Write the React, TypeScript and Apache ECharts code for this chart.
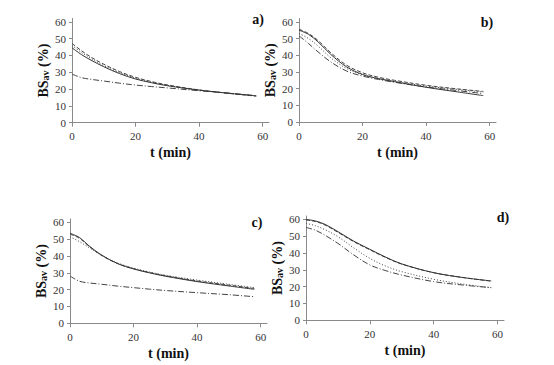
import React, { useEffect, useRef } from "react";
import * as echarts from "echarts";

const T = [0, 3, 6, 10, 15, 20, 25, 30, 40, 50, 58];
const xTicks = [0, 20, 40, 60];
const yTicks = [0, 10, 20, 30, 40, 50, 60];
const panelLabels = ["a)", "b)", "c)", "d)"];

const aSolid = [44.6, 40.5, 37.2, 33.3, 29.2, 26.0, 23.8, 22.0, 19.4, 17.4, 16.0];
const aDashed = [47.2, 42.8, 39.0, 34.8, 30.4, 27.0, 24.5, 22.5, 19.5, 17.3, 15.8];
const aDotted = [46.0, 41.8, 38.2, 34.0, 29.8, 26.5, 24.1, 22.2, 19.4, 17.4, 16.0];
const aDashDot = [28.9, 26.8, 25.8, 24.8, 23.5, 22.4, 21.5, 20.7, 19.0, 17.5, 16.0];

const bSolid = [55.0, 52.5, 48.0, 40.5, 33.0, 28.5, 26.0, 24.2, 20.8, 18.0, 15.8];
const bDashed = [55.6, 53.0, 48.8, 41.5, 34.0, 29.5, 26.8, 25.0, 22.0, 19.8, 18.3];
const bDotted = [53.0, 50.0, 45.5, 38.5, 32.0, 28.3, 26.0, 24.3, 21.5, 19.5, 18.0];
const bDashDot = [51.6, 47.0, 42.0, 36.0, 30.5, 27.5, 25.5, 23.8, 21.0, 18.8, 17.0];

const cSolid = [53.5, 51.0, 46.0, 40.5, 35.5, 32.3, 30.0, 28.0, 24.8, 22.2, 20.2];
const cDashed = [53.0, 50.5, 45.8, 40.3, 35.5, 32.5, 30.2, 28.3, 25.2, 22.7, 20.7];
const cDotted = [51.5, 48.5, 45.0, 40.3, 35.8, 32.8, 30.5, 28.6, 25.7, 23.2, 21.2];
const cDashDot = [28.1, 25.0, 24.0, 23.2, 22.1, 21.2, 20.3, 19.5, 18.2, 17.0, 15.8];

const dSolid = [60.0, 59.0, 57.0, 52.7, 47.0, 42.2, 37.5, 33.5, 28.3, 25.2, 23.4];
const dDashed = [59.6, 58.7, 56.6, 52.3, 46.7, 41.9, 37.3, 33.4, 28.3, 25.2, 23.3];
const dDotted = [57.6, 56.2, 53.8, 49.7, 43.0, 36.8, 32.2, 28.9, 24.4, 21.3, 19.4];
const dDashDot = [55.2, 53.5, 50.5, 45.7, 38.8, 32.9, 29.5, 26.9, 23.0, 20.8, 19.4];

const panels = [
  [aSolid, aDashed, aDotted, aDashDot],
  [bSolid, bDashed, bDotted, bDashDot],
  [cSolid, cDashed, cDotted, cDashDot],
  [dSolid, dDashed, dDotted, dDashDot],
];

const FONT = "'Liberation Serif', 'Times New Roman', serif";

const grids = [
  { left: 72, top: 18.5, width: 197, height: 104.2 },
  { left: 299, top: 18.5, width: 197, height: 103.5 },
  { left: 70, top: 219, width: 197, height: 104.3 },
  { left: 306, top: 216, width: 198, height: 104.3 },
];
const labelPos = [
  [258, 19],
  [487, 22],
  [257, 222],
  [503, 217],
];

const lineStyles = [
  { type: "solid" as any, color: "#333", width: 1 },
  { type: [4, 2], color: "#444", width: 1 },
  { type: [1, 2], color: "#444", width: 1 },
  { type: [6, 2, 1, 2], color: "#444", width: 1 },
];

export default function App() {
  const ref = useRef<HTMLDivElement>(null);
  useEffect(() => {
    document.body.style.margin = "0";
    const chart = echarts.init(ref.current!, null, { renderer: "svg" });
    const axisColor = "#8a8a8a";
    const option: any = {
      animation: false,
      backgroundColor: "#fff",
      grid: grids.map((g) => ({ ...g, containLabel: false })),
      xAxis: grids.map((_, i) => ({
        type: "value",
        gridIndex: i,
        min: 0,
        max: 62,
        name: "t (min)",
        nameLocation: "middle",
        nameGap: 23,
        nameTextStyle: { fontFamily: FONT, fontSize: 14, fontWeight: "bold", color: "#111" },
        axisLine: { show: true, lineStyle: { color: axisColor, width: 1 } },
        axisTick: { show: true, customValues: xTicks, length: 4, lineStyle: { color: axisColor } },
        axisLabel: { customValues: xTicks, fontFamily: FONT, fontSize: 11, color: "#333", margin: 8 },
        splitLine: { show: false },
      })),
      yAxis: grids.map((_, i) => ({
        type: "value",
        gridIndex: i,
        min: 0,
        max: 62,
        name: "{a|BS}{s|av}{a| (%)}",
        nameLocation: "middle",
        nameGap: 22,
        nameRotate: 90,
        nameTextStyle: {
          rich: {
            a: { fontFamily: FONT, fontSize: 14, fontWeight: "bold", color: "#111", lineHeight: 14, verticalAlign: "top" },
            s: { fontFamily: FONT, fontSize: 10, fontWeight: "bold", color: "#111", lineHeight: 10, verticalAlign: "bottom", padding: [7, 0, 0, 0] },
          },
        },
        axisLine: { show: true, lineStyle: { color: axisColor, width: 1 } },
        axisTick: { show: true, customValues: yTicks, length: 3, lineStyle: { color: axisColor } },
        axisLabel: { customValues: yTicks, fontFamily: FONT, fontSize: 11, color: "#333", margin: 6 },
        splitLine: { show: false },
      })),
      series: panels.flatMap((set, i) =>
        set.map((vals, k) => ({
          type: "line",
          xAxisIndex: i,
          yAxisIndex: i,
          data: T.map((t, j) => [t, vals[j]]),
          smooth: 0.35,
          showSymbol: false,
          lineStyle: lineStyles[k],
          z: 10 - k,
        }))
      ),
      graphic: panelLabels.map((txt, i) => ({
        type: "text",
        x: labelPos[i][0],
        y: labelPos[i][1],
        style: {
          text: txt,
          fontFamily: FONT,
          fontSize: 14,
          fontWeight: "bold",
          fill: "#111",
          align: "center",
          verticalAlign: "middle",
        },
      })),
    };
    chart.setOption(option);
    return () => chart.dispose();
  }, []);
  return <div ref={ref} style={{ width: 554, height: 365 }} />;
}
